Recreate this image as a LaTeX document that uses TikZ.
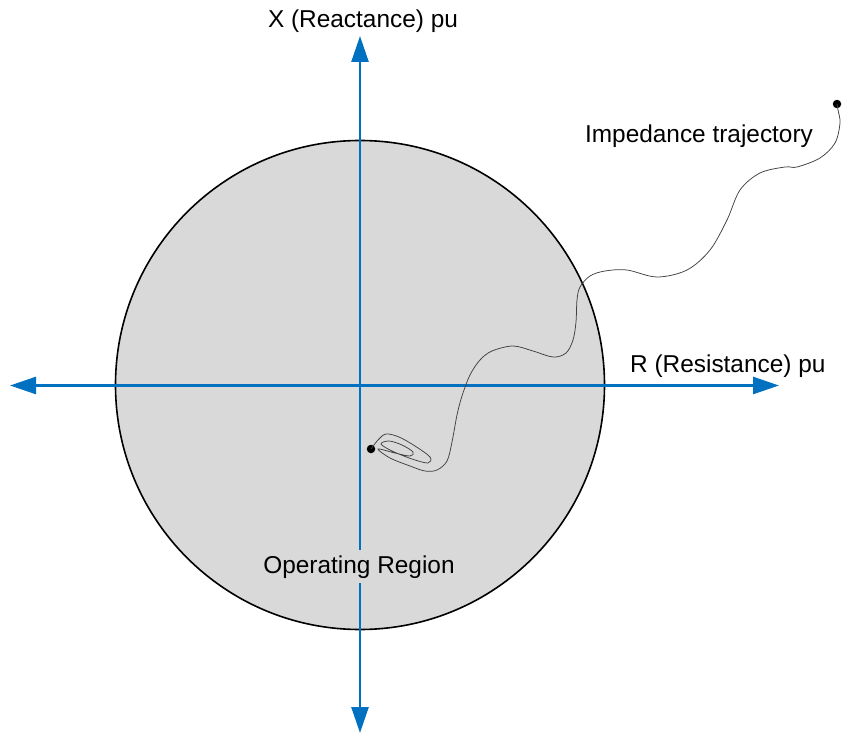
\documentclass[tikz,border=0pt]{standalone}
\usepackage{fontspec}
\setmainfont{Liberation Sans}
\usetikzlibrary{arrows.meta}
\definecolor{axisblue}{HTML}{0070C0}
\definecolor{regiongray}{HTML}{D9D9D9}
\begin{document}
\begin{tikzpicture}[x=1pt,y=-1pt,
  axis/.style={draw=axisblue,line width=2.6pt,{Triangle[length=26pt,width=17pt]}-{Triangle[length=26pt,width=17pt]}},
  lbl/.style={font=\fontsize{24.4}{28}\selectfont, inner sep=0pt},
  traj/.style={draw=black!75,line width=0.75pt},
  dotm/.style={circle,fill=black,minimum size=8.5pt,inner sep=0pt}]
\useasboundingbox (0,0) rectangle (847,733);
\node[circle, draw=black, fill=regiongray, line width=1.6pt, minimum size=489pt, inner sep=0pt] (region) at (360,385) {};
\coordinate (xl) at (10,385.5);
\coordinate (xr) at (779,385.5);
\coordinate (yt) at (360,36);
\coordinate (yb) at (360,733);
\draw[axis] (xl) -- (xr);
\draw[axis] (yb) -- (yt);
\node[lbl, anchor=base, fill=regiongray, inner ysep=5pt, inner xsep=2pt] (op) at (359,573) {Operating Region};
\node[dotm] (start) at (371,449) {};
\node[dotm] (end) at (837,104) {};
\draw[traj] plot[smooth, tension=0.55] coordinates {
 (371,449) (378,440) (386,434) (399,437) (415,446) (430,457) (428,463) (412,459) (392,451)
 (381,444) (389,441) (402,445) (413,452) (410,456) (395,453) (378,449) (390,458) (410,466)
 (425,471) (437,470) (447,461) (452,442) (457,415) (462,396) (470,375) (480,360) (492,351)
 (513,346) (533,351) (553,357) (566,353) (573,340) (576,322) (577,300) (580,287) (590,276)
 (605,271) (627,270) (657,277) (687,270) (710,250) (727,220) (740,190) (760,173) (785,167)
 (797,167) (820,158) (835,143) (840,123) (838,110) (837,104)};
\node[lbl, anchor=base] (xlab) at (363,28) {X (Reactance) pu};
\node[lbl, anchor=base] (imp) at (699,143) {Impedance trajectory};
\node[lbl, anchor=base west] (rlab) at (630,372) {R (Resistance) pu};
\end{tikzpicture}
\end{document}
